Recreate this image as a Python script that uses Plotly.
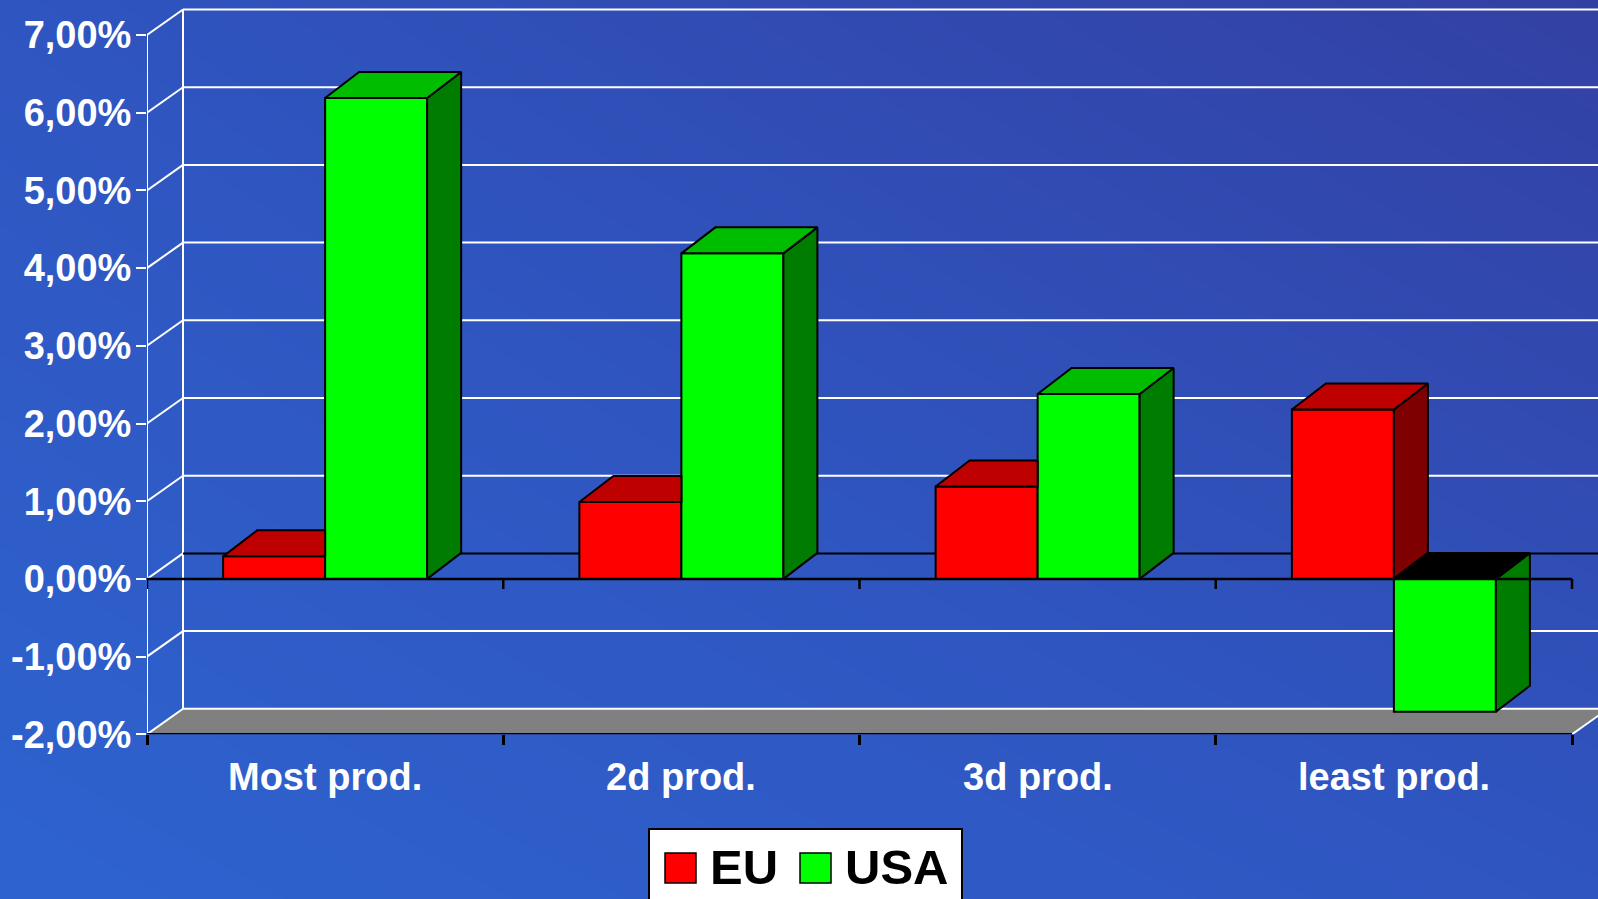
import plotly.graph_objects as go

# ---------------- data ----------------
categories = ["Most prod.", "2d prod.", "3d prod.", "least prod."]
series_names = ["EU", "USA"]
eu_values = [0.29, 0.99, 1.19, 2.18]
usa_values = [6.19, 4.19, 2.38, -1.71]
y_ticks = [-2, -1, 0, 1, 2, 3, 4, 5, 6, 7]
y_tick_labels = ["-2,00%", "-1,00%", "0,00%", "1,00%", "2,00%",
                 "3,00%", "4,00%", "5,00%", "6,00%", "7,00%"]

# ---------------- styling / geometry ----------------
W, H = 1598, 899
FONT = "Liberation Sans, Arial, sans-serif"
PLOT_L, PLOT_B = 147.0, 734.3           # front-left axis x, front -2% line y (px)
PX_PER_CAT, PX_PER_PCT = 356.25, 77.7
Y_MIN = y_ticks[0]
x_range = [-0.5, -0.5 + (W - PLOT_L) / PX_PER_CAT]
y_range = [Y_MIN, Y_MIN + PLOT_B / PX_PER_PCT]
x_dom = [PLOT_L / W, 1.0]
y_dom = [(H - PLOT_B) / H, 1.0]

BAR_W = 102 / PX_PER_CAT
BDX, BDY = 34 / PX_PER_CAT, 26 / PX_PER_PCT      # bar depth offset
WDX, WDY = 36 / PX_PER_CAT, 25.5 / PX_PER_PCT    # wall depth offset
TICK = 10 / PX_PER_PCT

colors = {
    "EU": {"front": "#ff0000", "top": "#bf0000", "side": "#7f0000"},
    "USA": {"front": "#00ff00", "top": "#00bd00", "side": "#007c00"},
}
NEG_TOP = "#000000"

x_pos = list(range(len(categories)))
x_left = -0.5
x_right = len(categories) - 0.5
boundaries = [x_left + i for i in range(len(categories) + 1)]

fig = go.Figure()

# ---------------- background gradient ----------------
fig.add_trace(go.Heatmap(
    z=[[0.0, 0.45], [0.45, 1.0]], x=[0, 1], y=[0, 1], zsmooth="best",
    colorscale=[[0, "#2e63cf"], [0.45, "#2f55c0"], [1, "#3340a3"]],
    showscale=False, hoverinfo="skip", xaxis="x", yaxis="y"))


def seg_trace(xs, ys, color, width, axes=("x2", "y2")):
    return go.Scatter(x=xs, y=ys, mode="lines", line=dict(color=color, width=width),
                      hoverinfo="skip", showlegend=False, xaxis=axes[0], yaxis=axes[1],
                      cliponaxis=True)


# ---------------- walls / floor ----------------
floor_x = [x_left, x_right, x_right + WDX, x_left + WDX, x_left]
floor_y = [Y_MIN, Y_MIN, Y_MIN + WDY, Y_MIN + WDY, Y_MIN]
fig.add_trace(go.Scatter(x=floor_x, y=floor_y, mode="lines", fill="toself",
                         fillcolor="#808080", line=dict(width=0, color="#808080"),
                         hoverinfo="skip", showlegend=False, xaxis="x2", yaxis="y2"))

wx, wy = [], []
bx, by = [], []
for t in y_ticks:
    wx += [x_left, x_left + WDX, None]
    wy += [t, t + WDY, None]
    if t == 0:
        bx += [x_left + WDX, x_right + WDX + 1, None]
        by += [t + WDY, t + WDY, None]
    else:
        wx += [x_left + WDX, x_right + WDX + 1, None]
        wy += [t + WDY, t + WDY, None]
# wall edges
wx += [x_left + WDX, x_left + WDX, None, x_left, x_left, None,
       x_right, x_right + WDX, None]
wy += [y_ticks[0] + WDY, y_ticks[-1] + WDY, None, y_ticks[0], y_ticks[-1], None,
       Y_MIN, Y_MIN + WDY, None]
fig.add_trace(seg_trace(wx, wy, "white", 2))
fig.add_trace(seg_trace(bx, by, "black", 2))
fig.add_trace(seg_trace([x_left, x_right], [Y_MIN, Y_MIN], "black", 2.5))

# ---------------- bars (front faces) ----------------
fig.add_trace(go.Bar(x=x_pos, y=eu_values, name=series_names[0], width=BAR_W, offset=-BAR_W,
                     marker=dict(color=colors["EU"]["front"], line=dict(color="black", width=2)),
                     hoverinfo="skip", showlegend=False, xaxis="x3", yaxis="y3"))
fig.add_trace(go.Bar(x=x_pos, y=usa_values, name=series_names[1], width=BAR_W, offset=0,
                     marker=dict(color=colors["USA"]["front"], line=dict(color="black", width=2)),
                     hoverinfo="skip", showlegend=False, xaxis="x3", yaxis="y3"))


def face(xs, ys, fill):
    return go.Scatter(x=xs + [xs[0]], y=ys + [ys[0]], mode="lines", fill="toself",
                      fillcolor=fill, line=dict(color="black", width=2),
                      hoverinfo="skip", showlegend=False, xaxis="x3", yaxis="y3")


# ---------------- 3D faces ----------------
for c, v, u in zip(x_pos, eu_values, usa_values):
    # EU bar: left edge c-BAR_W, right edge c
    x0, x1 = c - BAR_W, c
    top_v = max(v, 0)
    hidden = u >= top_v + BDY  # USA front face hides EU side
    top_col = colors["EU"]["top"] if v >= 0 else NEG_TOP
    if hidden:
        fig.add_trace(face([x0, x1, x1, x0 + BDX], [top_v, top_v, top_v + BDY, top_v + BDY], top_col))
    else:
        fig.add_trace(face([x1, x1, x1 + BDX, x1 + BDX], [min(v, 0), max(v, 0), max(v, 0) + BDY, min(v, 0) + BDY],
                           colors["EU"]["side"]))
        fig.add_trace(face([x0, x1, x1 + BDX, x0 + BDX], [top_v, top_v, top_v + BDY, top_v + BDY], top_col))
    # USA bar: left edge c, right edge c+BAR_W
    x0, x1 = c, c + BAR_W
    top_u = max(u, 0)
    top_col = colors["USA"]["top"] if u >= 0 else NEG_TOP
    fig.add_trace(face([x1, x1, x1 + BDX, x1 + BDX], [min(u, 0), max(u, 0), max(u, 0) + BDY, min(u, 0) + BDY],
                       colors["USA"]["side"]))
    fig.add_trace(face([x0, x1, x1 + BDX, x0 + BDX], [top_u, top_u, top_u + BDY, top_u + BDY], top_col))

# front zero line with category ticks
zx, zy = [x_left, x_right, None], [0, 0, None]
for b in boundaries:
    zx += [b, b, None]
    zy += [0, -TICK, None]
fig.add_trace(seg_trace(zx, zy, "black", 2.5, axes=("x3", "y3")))

# ---------------- category labels ----------------
annotations = []
for c, name in zip(x_pos, categories):
    annotations.append(dict(x=c, xref="x2", y=(H - 777) / H, yref="paper", text=name,
                            showarrow=False, yanchor="middle", xanchor="center",
                            font=dict(family=FONT, size=38, color="white", weight="bold")))

# ---------------- legend (drawn) ----------------
def px_x(v):
    return v / W


def px_y(v):
    return (H - v) / H


shapes = [dict(type="rect", xref="paper", yref="paper", x0=px_x(649), x1=px_x(962),
               y0=px_y(829), y1=px_y(915), fillcolor="white", line=dict(color="black", width=2))]
legend_items = [(series_names[0], colors["EU"]["front"], 665, 711),
                (series_names[1], colors["USA"]["front"], 800, 846)]
for name, col, sx, tx in legend_items:
    shapes.append(dict(type="rect", xref="paper", yref="paper", x0=px_x(sx), x1=px_x(sx + 31),
                       y0=px_y(853), y1=px_y(883), fillcolor=col, line=dict(color="black", width=1.5)))
    annotations.append(dict(x=px_x(tx - 3), y=px_y(867), xref="paper", yref="paper", text=name,
                            showarrow=False, xanchor="left", yanchor="middle",
                            font=dict(family=FONT, size=49, color="black", weight="bold")))

fig.update_layout(
    width=W, height=H, autosize=False,
    margin=dict(l=0, r=0, t=0, b=0, pad=0, autoexpand=False),
    paper_bgcolor="#2f58c4", plot_bgcolor="rgba(0,0,0,0)",
    barmode="overlay", showlegend=False,
    xaxis=dict(domain=[0, 1], range=[0, 1], visible=False, fixedrange=True),
    yaxis=dict(domain=[0, 1], range=[0, 1], visible=False, fixedrange=True),
    xaxis2=dict(domain=x_dom, range=x_range, anchor="y2", showgrid=False, zeroline=False,
                showline=False, ticks="outside", ticklen=10, tickwidth=2.5, tickcolor="black",
                tickvals=boundaries, showticklabels=False, fixedrange=True, automargin=False),
    yaxis2=dict(domain=y_dom, range=y_range, anchor="x2", showgrid=False, zeroline=False,
                showline=False, ticks="outside", ticklen=10, tickwidth=2, tickcolor="white",
                tickvals=y_ticks, ticktext=y_tick_labels, ticklabelstandoff=-3,
                tickfont=dict(family=FONT, size=38, color="white", weight="bold"),
                fixedrange=True, automargin=False),
    xaxis3=dict(overlaying="x2", anchor="y3", range=x_range, visible=False, fixedrange=True),
    yaxis3=dict(overlaying="y2", anchor="x3", range=y_range, visible=False, fixedrange=True),
    shapes=shapes, annotations=annotations,
)

fig.write_html("out.html", config={"displayModeBar": False},
               post_script="document.body.style.margin='0';document.body.style.overflow='hidden';")
